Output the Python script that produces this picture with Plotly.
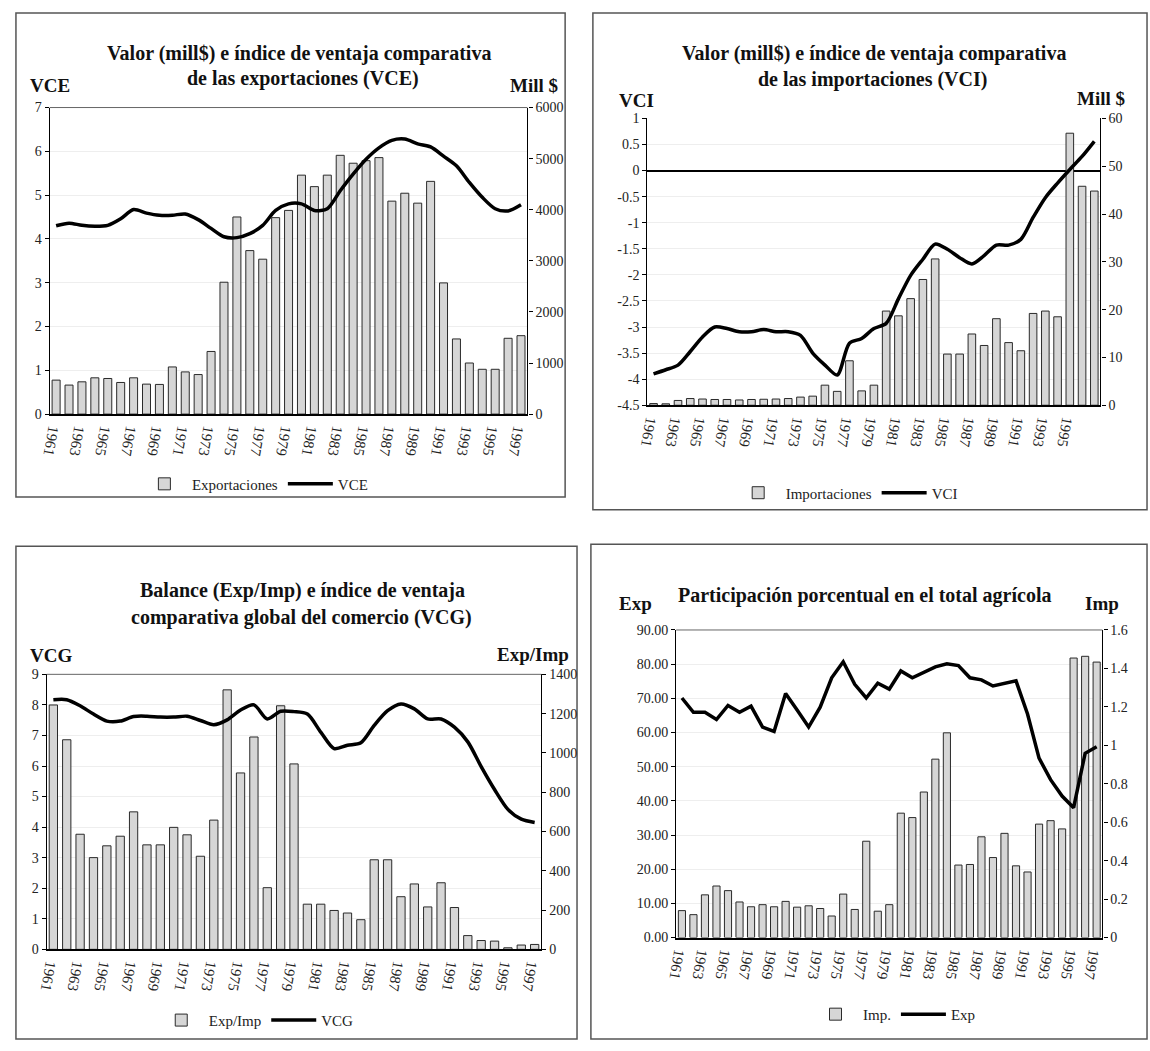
import plotly.graph_objects as go

# ---------------- data ----------------
years = list(range(1961, 1998))
tick_years = list(range(1961, 1998, 2))
tick_years_imp = list(range(1961, 1996, 2))

# Panel 1: exports (mill $) and VCE
exportaciones = [665, 568, 632, 710, 697, 619, 710, 587, 581, 923, 826, 774, 1226,
                 2581, 3858, 3200, 3032, 3845, 3987, 4677, 4452, 4677, 5065, 4910,
                 4960, 5020, 4168, 4323, 4129, 4555, 2568, 1471, 1000, 877, 877,
                 1484, 1535]
vce = [4.30, 4.36, 4.31, 4.29, 4.31, 4.46, 4.67, 4.59, 4.54, 4.54, 4.57, 4.44, 4.24,
       4.05, 4.03, 4.12, 4.31, 4.65, 4.80, 4.80, 4.65, 4.69, 5.10, 5.48, 5.82, 6.08,
       6.25, 6.28, 6.17, 6.10, 5.89, 5.67, 5.29, 4.95, 4.69, 4.64, 4.78]

# Panel 2: imports (mill $) and VCI
importaciones = [0.35, 0.3, 1.0, 1.4, 1.3, 1.2, 1.2, 1.1, 1.2, 1.25, 1.3, 1.4, 1.7,
                 1.9, 4.2, 2.9, 9.3, 3.0, 4.2, 19.7, 18.7, 22.3, 26.3, 30.6, 10.7,
                 10.7, 14.9, 12.5, 18.1, 13.1, 11.4, 19.2, 19.7, 18.5, 56.9, 45.8, 44.8]
vci = [-3.90, -3.82, -3.73, -3.47, -3.19, -3.00, -3.03, -3.09, -3.09, -3.05, -3.09,
       -3.09, -3.16, -3.50, -3.73, -3.92, -3.31, -3.22, -3.03, -2.93, -2.46, -2.01,
       -1.70, -1.41, -1.51, -1.67, -1.79, -1.63, -1.43, -1.43, -1.32, -0.90, -0.52,
       -0.24, 0.02, 0.27, 0.56]
vci_ticks = [1, 0.5, 0, -0.5, -1, -1.5, -2, -2.5, -3, -3.5, -4, -4.5]
vci_ticktext = ["1", "0.5", "0", "-0.5", "-1", "-1.5", "-2", "-2.5", "-3", "-3.5", "-4", "-4.5"]

# Panel 3: Exp/Imp balance and VCG
exp_imp = [1244, 1067, 586, 467, 527, 576, 700, 532, 532, 621, 583, 474, 658, 1321,
           898, 1081, 314, 1240, 944, 230, 230, 198, 185, 151, 456, 456, 268, 333,
           216, 339, 213, 70, 45, 42, 8, 22, 25]
vcg = [8.17, 8.17, 7.97, 7.70, 7.47, 7.47, 7.62, 7.63, 7.60, 7.60, 7.63, 7.49, 7.35,
       7.51, 7.83, 8.00, 7.54, 7.79, 7.78, 7.70, 7.11, 6.57, 6.68, 6.76, 7.33, 7.81,
       8.03, 7.87, 7.54, 7.54, 7.27, 6.79, 5.98, 5.23, 4.58, 4.26, 4.15]

# Panel 4: share in agricultural total (Imp bars, Exp line)
imp_share = [0.140, 0.119, 0.222, 0.268, 0.244, 0.185, 0.160, 0.171, 0.160, 0.188,
             0.158, 0.165, 0.151, 0.112, 0.226, 0.146, 0.501, 0.137, 0.171, 0.647,
             0.624, 0.757, 0.928, 1.065, 0.377, 0.380, 0.524, 0.416, 0.542, 0.373,
             0.341, 0.590, 0.608, 0.565, 1.454, 1.463, 1.433]
exp_share = [70.1, 65.9, 65.9, 63.8, 67.9, 65.9, 67.7, 61.6, 60.3, 71.4, 66.6, 61.6,
             67.4, 76.0, 80.7, 74.1, 70.1, 74.4, 72.7, 78.0, 76.0, 77.7, 79.2, 80.1,
             79.6, 76.0, 75.4, 73.6, 74.4, 75.1, 65.4, 52.5, 46.2, 41.4, 38.0, 53.9, 55.8]

# ---------------- helpers ----------------
W, H = 1150, 1051
def px(x):
    return x / W
def py(y):
    return 1 - y / H

FONT = "Liberation Serif"
BAR_FILL = "#d6d6d6"
BAR_LINE = "#2a2a2a"
GRID = "#eeeeee"

fig = go.Figure()

panels = [
    dict(xa="x", yb="y", yl="y2", bars=exportaciones, line=vce,
         bname="Exportaciones", lname="VCE", leg="legend", shape="spline"),
    dict(xa="x2", yb="y3", yl="y4", bars=importaciones, line=vci,
         bname="Importaciones", lname="VCI", leg="legend2", shape="spline"),
    dict(xa="x3", yb="y5", yl="y6", bars=exp_imp, line=vcg,
         bname="Exp/Imp", lname="VCG", leg="legend3", shape="spline"),
    dict(xa="x4", yb="y7", yl="y8", bars=imp_share, line=exp_share,
         bname="Imp.", lname="Exp", leg="legend4", shape="linear"),
]

for p in panels:
    fig.add_trace(go.Bar(
        x=years, y=p["bars"], xaxis=p["xa"], yaxis=p["yb"], name=p["bname"],
        width=0.62, marker=dict(color=BAR_FILL, line=dict(color=BAR_LINE, width=1)),
        legend=p["leg"], hoverinfo="x+y"))
    fig.add_trace(go.Scatter(
        x=years, y=p["line"], xaxis=p["xa"], yaxis=p["yl"], name=p["lname"],
        mode="lines", line=dict(color="black", width=3.5, shape=p["shape"], smoothing=0.8),
        legend=p["leg"]))

tickfont = dict(family=FONT, size=14, color="#222")
xcommon = dict(range=[1960.5, 1997.5], tickmode="array", tickangle=100,
               showline=True, linecolor="black", linewidth=2, ticks="",
               tickfont=dict(family=FONT, size=15, color="#222"), showgrid=False,
               zeroline=False)
ycommon = dict(showline=True, linecolor="black", linewidth=1.3, ticks="outside",
               ticklen=4, tickcolor="black", tickfont=tickfont, zeroline=False)

# Panel geometry in pixels: (left, right, top, bottom)
g1 = (40, 522, 102, 413)
g2 = (643, 1100, 113, 404)
g3 = (37, 536, 677, 956)
g4 = (672, 1102, 632, 944)

def dom(g):
    return [px(g[0]), px(g[1])], [py(g[3]), py(g[2])]

d1x, d1y = dom(g1)
d2x, d2y = dom(g2)
d3x, d3y = dom(g3)
d4x, d4y = dom(g4)

fig.update_layout(
    xaxis=dict(domain=d1x, anchor="y", tickvals=tick_years, **xcommon),
    yaxis=dict(domain=d1y, anchor="x", side="right", range=[0, 6000], dtick=1000,
               showgrid=False, **ycommon),
    yaxis2=dict(overlaying="y", anchor="x", side="left", range=[0, 7], dtick=1,
                showgrid=True, gridcolor=GRID, **ycommon),

    xaxis2=dict(domain=d2x, anchor="y3", tickvals=tick_years_imp, **xcommon),
    yaxis3=dict(domain=d2y, anchor="x2", side="right", range=[0, 60], dtick=10,
                showgrid=False, **ycommon),
    yaxis4=dict(overlaying="y3", anchor="x2", side="left", range=[-4.5, 1],
                tickmode="array", tickvals=vci_ticks, ticktext=vci_ticktext,
                showgrid=True, gridcolor=GRID,
                showline=True, linecolor="black", linewidth=1.3, ticks="outside",
                ticklen=4, tickcolor="black", tickfont=tickfont,
                zeroline=True, zerolinecolor="black", zerolinewidth=2),

    xaxis3=dict(domain=d3x, anchor="y5", tickvals=tick_years, **xcommon),
    yaxis5=dict(domain=d3y, anchor="x3", side="right", range=[0, 1400], dtick=200,
                showgrid=False, **ycommon),
    yaxis6=dict(overlaying="y5", anchor="x3", side="left", range=[0, 9], dtick=1,
                showgrid=True, gridcolor=GRID, **ycommon),

    xaxis4=dict(domain=d4x, anchor="y7", tickvals=tick_years, **xcommon),
    yaxis7=dict(domain=d4y, anchor="x4", side="right", range=[0, 1.6], dtick=0.2,
                showgrid=False, **ycommon),
    yaxis8=dict(overlaying="y7", anchor="x4", side="left", range=[0, 90], dtick=10,
                tickformat=".2f", showgrid=True, gridcolor=GRID, **ycommon),
)

legfont = dict(family=FONT, size=15, color="#222")
def legend_at(x, y):
    return dict(x=px(x), y=py(y), xanchor="left", yanchor="middle", orientation="h",
                font=legfont, bgcolor="rgba(0,0,0,0)", itemwidth=45,
                traceorder="normal", itemclick=False)

fig.update_layout(
    width=W, height=H, margin=dict(l=0, r=0, t=0, b=0),
    paper_bgcolor="white", plot_bgcolor="rgba(0,0,0,0)",
    font=dict(family=FONT, size=14, color="#222"),
    bargap=0.3,
    legend=legend_at(128, 484),
    legend2=legend_at(727, 493),
    legend3=legend_at(145, 1028),
    legend4=legend_at(805, 1022),
)

# Panel frames
boxes = [(6, 6, 560, 497), (588, 6, 1147, 510), (6, 547, 572, 1047), (586, 545, 1147, 1047)]
for (x0, y0, x1, y1) in boxes:
    fig.add_shape(type="rect", xref="paper", yref="paper",
                  x0=px(x0), x1=px(x1), y0=py(y1), y1=py(y0),
                  line=dict(color="#555", width=1.5), fillcolor="rgba(0,0,0,0)",
                  layer="below")

# thin top edge of plot areas (panels 1, 3, 4)
for g in (g1, g3, g4):
    fig.add_shape(type="line", xref="paper", yref="paper",
                  x0=px(g[0]), x1=px(g[1]), y0=py(g[2]), y1=py(g[2]),
                  line=dict(color="#666", width=1))

def text(x, y, s, size=20, xanchor="center"):
    fig.add_annotation(x=px(x), y=py(y), xref="paper", yref="paper", text=s,
                       showarrow=False, xanchor=xanchor, yanchor="middle",
                       font=dict(family=FONT, size=size, color="#111"),
                       align="center")

# Titles
text(292, 47, "<b>Valor (mill$) e índice de ventaja comparativa</b>")
text(296, 73, "<b>de las exportaciones (VCE)</b>")
text(872, 47, "<b>Valor (mill$) e índice de ventaja comparativa</b>")
text(870, 74, "<b>de las importaciones (VCI)</b>")
text(295, 592, "<b>Balance (Exp/Imp) e índice de ventaja</b>")
text(294, 619, "<b>comparativa global del comercio (VCG)</b>")
text(862, 597, "<b>Participación porcentual en el total agrícola</b>")

# Axis titles
text(18, 80, "<b>VCE</b>", size=19, xanchor="left")
text(555, 80, "<b>Mill $</b>", size=19, xanchor="right")
text(612, 95, "<b>VCI</b>", size=19, xanchor="left")
text(1127, 93, "<b>Mill $</b>", size=19, xanchor="right")
text(18, 658, "<b>VCG</b>", size=19, xanchor="left")
text(566, 657, "<b>Exp/Imp</b>", size=19, xanchor="right")
text(612, 605, "<b>Exp</b>", size=19, xanchor="left")
text(1121, 605, "<b>Imp</b>", size=19, xanchor="right")

fig.write_html("out.html",
               config={"displayModeBar": False},
               post_script="document.body.style.margin='0';document.body.style.overflow='hidden';")
